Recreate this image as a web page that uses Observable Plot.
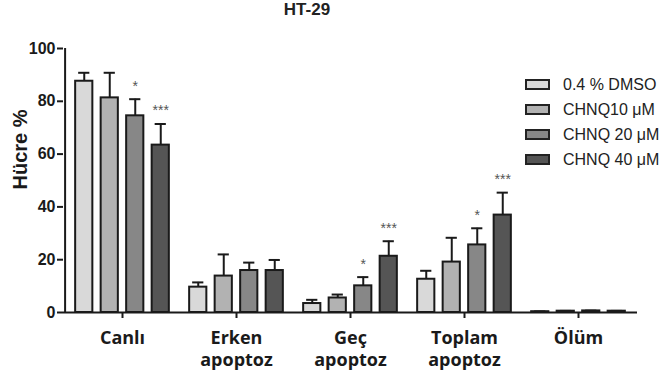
<!DOCTYPE html>
<html>
<head>
<meta charset="utf-8">
<script src="https://cdn.jsdelivr.net/npm/d3@7"></script>
<script src="https://cdn.jsdelivr.net/npm/@observablehq/plot@0.6"></script>
<style>
  html, body { margin: 0; padding: 0; background: #fff; }
  #wrap { position: relative; width: 660px; height: 374px; overflow: hidden; }
  #title { width: 614px; height: 28px; line-height: 28px; text-align: center;
           font: bold 17px "Liberation Sans", Arial, sans-serif; color: #222; }
  #legend { position: absolute; left: 525px; top: 72px; font: 16px "Liberation Sans", Arial, sans-serif; color: #222; }
  .item { display: flex; align-items: center; height: 25px; }
  .sw { width: 21px; height: 7px; border: 2px solid #222; margin-right: 13px; }
</style>
</head>
<body>
<div id="wrap">
  <div id="title">HT-29</div>
  <div id="chart"></div>
  <div id="legend"></div>
</div>
<script>
const categories = ["Canlı", "Erken apoptoz", "Geç apoptoz", "Toplam apoptoz", "Ölüm"];
const tickLabels = ["Canlı", "Erken\napoptoz", "Geç\napoptoz", "Toplam\napoptoz", "Ölüm"];
const series = ["0.4 % DMSO", "CHNQ10 μM", "CHNQ 20 μM", "CHNQ 40 μM"];
const colors = ["#d9d9d9", "#b2b2b2", "#878787", "#555555"];

const meanDMSO = [87.6, 9.6, 3.4, 12.6, 0.3];
const mean10   = [81.3, 13.8, 5.5, 19.1, 0.5];
const mean20   = [74.5, 15.9, 10.1, 25.6, 0.6];
const mean40   = [63.4, 15.9, 21.3, 36.9, 0.5];

const sdDMSO = [3.2, 1.8, 1.4, 3.2, 0.1];
const sd10   = [9.5, 8.2, 1.3, 9.2, 0.1];
const sd20   = [6.3, 3.0, 3.3, 6.3, 0.1];
const sd40   = [8.0, 4.0, 5.7, 8.5, 0.1];

const sigDMSO = ["", "", "", "", ""];
const sig10   = ["", "", "", "", ""];
const sig20   = ["*", "", "*", "*", ""];
const sig40   = ["***", "", "***", "***", ""];

const yTicks = [0, 20, 40, 60, 80, 100];

const means = [meanDMSO, mean10, mean20, mean40];
const sds = [sdDMSO, sd10, sd20, sd40];
const sigs = [sigDMSO, sig10, sig20, sig40];

const W = 660, H = 346, ML = 63, MR = 23, MT = 20, MB = 62;
const step = (W - ML - MR) / categories.length;
const barStep = 25.5, barW = 18, capW = 12;

const marks = [];
series.forEach((s, i) => {
  const data = categories.map((c, j) => ({cat: c, v: means[i][j], e: means[i][j] + sds[i][j], sig: sigs[i][j]}));
  const dx = (i - 1.5) * barStep;
  marks.push(Plot.ruleX(data, {x: "cat", y1: "v", y2: "e", dx, stroke: "#1a1a1a", strokeWidth: 2}));
  marks.push(Plot.tickY(data, {x: "cat", y: "e", dx, stroke: "#1a1a1a", strokeWidth: 2,
    insetLeft: (step - capW) / 2, insetRight: (step - capW) / 2}));
  marks.push(Plot.barY(data, {x: "cat", y: "v", dx, fill: colors[i], stroke: "#1a1a1a", strokeWidth: 2,
    insetLeft: (step - barW) / 2, insetRight: (step - barW) / 2}));
  marks.push(Plot.text(data.filter(d => d.sig), {x: "cat", y: "e", text: "sig", dx, dy: -13,
    fill: "#555", fontSize: 14, fontFamily: "Liberation Sans"}));
});

const chart = Plot.plot({
  width: W, height: H,
  marginLeft: ML, marginRight: MR, marginTop: MT, marginBottom: MB,
  style: {fontFamily: "Liberation Sans, Arial, sans-serif", color: "#1a1a1a", background: "transparent"},
  x: {domain: categories, padding: 0},
  y: {domain: [0, 100]},
  marks: [
    ...marks,
    Plot.ruleY([0], {stroke: "#1a1a1a", strokeWidth: 2}),
    Plot.ruleX([categories[0]], {y1: 0, y2: 100, dx: -step / 2, stroke: "#1a1a1a", strokeWidth: 2}),
    Plot.axisY({ticks: yTicks, tickSize: 6, tickPadding: 2, strokeWidth: 2, label: null,
      fontSize: 16, fontWeight: "bold", fontFamily: "Liberation Sans"}),
    Plot.axisX({tickSize: 6, tickPadding: 10, strokeWidth: 2, label: null,
      tickFormat: d => tickLabels[categories.indexOf(d)],
      fontSize: 18, fontWeight: "bold", fontFamily: "Open Sans", lineHeight: 1.22}),
    Plot.text(["Hücre %"], {frameAnchor: "left", rotate: -90, dx: -43, dy: 9, text: d => d,
      fontSize: 20, fontWeight: "bold", fontFamily: "Liberation Sans", fill: "#1a1a1a"})
  ]
});
document.getElementById("chart").appendChild(chart);

const legend = document.getElementById("legend");
series.forEach((s, i) => {
  const item = document.createElement("div");
  item.className = "item";
  const sw = document.createElement("div");
  sw.className = "sw";
  sw.style.background = colors[i];
  const t = document.createElement("span");
  t.textContent = s;
  item.appendChild(sw);
  item.appendChild(t);
  legend.appendChild(item);
});
</script>
</body>
</html>
